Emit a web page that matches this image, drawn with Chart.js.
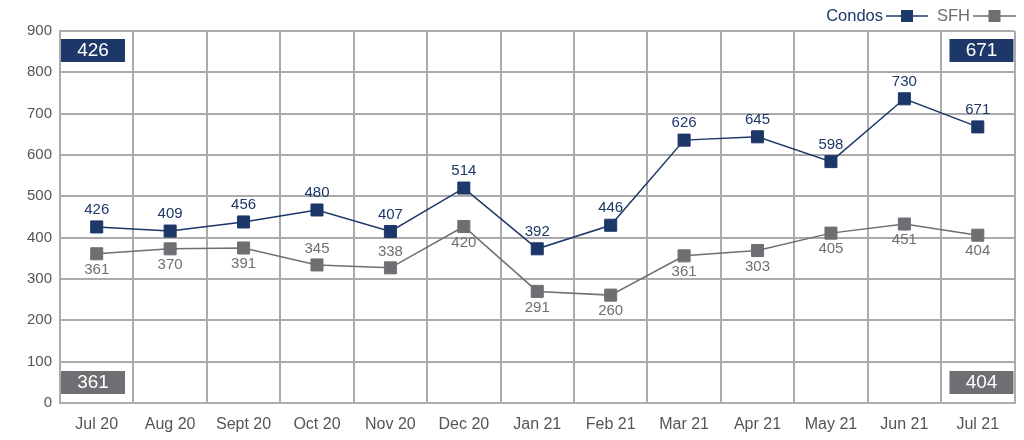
<!DOCTYPE html>
<html>
<head>
<meta charset="utf-8">
<script src="https://cdn.jsdelivr.net/npm/chart.js@4"></script>
<style>
    body { margin: 0; background: #fff; }
    #wrap { width: 1024px; height: 440px; position: relative; }
</style>
</head>
<body>
<div id="wrap"><canvas id="chart"></canvas></div>
<script>
const months = ['Jul 20', 'Aug 20', 'Sept 20', 'Oct 20', 'Nov 20', 'Dec 20', 'Jan 21', 'Feb 21', 'Mar 21', 'Apr 21', 'May 21', 'Jun 21', 'Jul 21'];
// where the markers sit on the picture
const condos = [426, 416, 438, 467, 415, 520, 373, 430, 636, 644, 584, 736, 668];
const sfh = [361, 373, 375, 334, 327, 427, 270, 261, 356, 369, 411, 433, 406];
// the numbers printed next to the markers
const condosText = ['426', '409', '456', '480', '407', '514', '392', '446', '626', '645', '598', '730', '671'];
const sfhText = ['361', '370', '391', '345', '338', '420', '291', '260', '361', '303', '405', '451', '404'];
const sfhTextAbove = [3, 4];
const yTicks = { min: 0, max: 900, step: 100 };

const NAVY = '#1c3768';
const GREY = '#6e6f72';
const GRID = '#ababab';
const FONT = "'Liberation Sans', Arial, sans-serif";

Chart.defaults.font.family = FONT;

const pointLabels = {
    id: 'pointLabels',
    afterDatasetsDraw(chart) {
        const ctx = chart.ctx;
        ctx.save();
        ctx.textAlign = 'center';
        ctx.textBaseline = 'middle';
        chart.getDatasetMeta(0).data.forEach((p, i) => {
            ctx.font = '15px ' + FONT;
            ctx.fillStyle = NAVY;
            ctx.fillText(condosText[i], p.x, p.y - 17);
        });
        chart.getDatasetMeta(1).data.forEach((p, i) => {
            ctx.font = '15px ' + FONT;
            ctx.fillStyle = GREY;
            const dy = sfhTextAbove.includes(i) ? -16 : 16;
            ctx.fillText(sfhText[i], p.x, p.y + dy);
        });
        ctx.restore();
    }
};

const cornerBoxes = {
    id: 'cornerBoxes',
    afterDraw(chart) {
        const { ctx, chartArea: a } = chart;
        const last = condosText.length - 1;
        const box = (x, y, txt, col) => {
            ctx.fillStyle = col;
            ctx.fillRect(x, y, 64, 23);
            ctx.fillStyle = '#fff';
            ctx.font = '19px ' + FONT;
            ctx.textAlign = 'center';
            ctx.textBaseline = 'middle';
            ctx.fillText(txt, x + 32, y + 12);
        };
        ctx.save();
        box(a.left + 1, a.top + 8, condosText[0], NAVY);
        box(a.right - 65, a.top + 8, condosText[last], NAVY);
        box(a.left + 1, a.bottom - 32, sfhText[0], GREY);
        box(a.right - 65, a.bottom - 32, sfhText[last], GREY);
        ctx.restore();
    }
};

const sideLegend = {
    id: 'sideLegend',
    afterDraw(chart) {
        const ctx = chart.ctx;
        const y = 16;
        const item = (xText, label, col, x0, x1) => {
            ctx.font = '16.5px ' + FONT;
            ctx.fillStyle = col;
            ctx.textAlign = 'right';
            ctx.textBaseline = 'middle';
            ctx.fillText(label, xText, y);
            ctx.strokeStyle = col;
            ctx.lineWidth = 1.5;
            ctx.beginPath(); ctx.moveTo(x0, y); ctx.lineTo(x1, y); ctx.stroke();
            const mx = (x0 + x1) / 2;
            ctx.fillRect(mx - 6, y - 6, 12, 12);
        };
        ctx.save();
        item(883, 'Condos', NAVY, 886, 928);
        item(970, 'SFH', GREY, 973, 1016);
        ctx.restore();
    }
};

new Chart(document.getElementById('chart'), {
    type: 'line',
    data: {
        labels: months,
        datasets: [
            { label: 'Condos', data: condos, borderColor: NAVY, backgroundColor: NAVY, borderWidth: 1.5, pointStyle: 'rect', pointRadius: 8.5, pointBorderWidth: 1, tension: 0 },
            { label: 'SFH', data: sfh, borderColor: GREY, backgroundColor: GREY, borderWidth: 1.5, pointStyle: 'rect', pointRadius: 8.5, pointBorderWidth: 1, tension: 0 }
        ]
    },
    options: {
        responsive: true,
        maintainAspectRatio: false,
        animation: false,
        layout: { padding: { top: 31, right: 8, left: 0, bottom: 0 } },
        plugins: { legend: { display: false }, tooltip: { enabled: false } },
        scales: {
            x: {
                offset: true,
                grid: { offset: true, color: GRID, lineWidth: 2, drawTicks: false },
                border: { color: GRID, width: 2 },
                ticks: { color: '#555', font: { size: 16 }, padding: 12, maxRotation: 0, autoSkip: false },
                afterFit: s => { s.height = 37; }
            },
            y: {
                min: yTicks.min, max: yTicks.max,
                grid: { color: GRID, lineWidth: 2, drawTicks: false },
                border: { color: GRID, width: 2 },
                ticks: { stepSize: yTicks.step, color: '#555', font: { size: 15 }, padding: 8 },
                afterFit: s => { s.width = 60; }
            }
        }
    },
    plugins: [pointLabels, cornerBoxes, sideLegend]
});
</script>
</body>
</html>
